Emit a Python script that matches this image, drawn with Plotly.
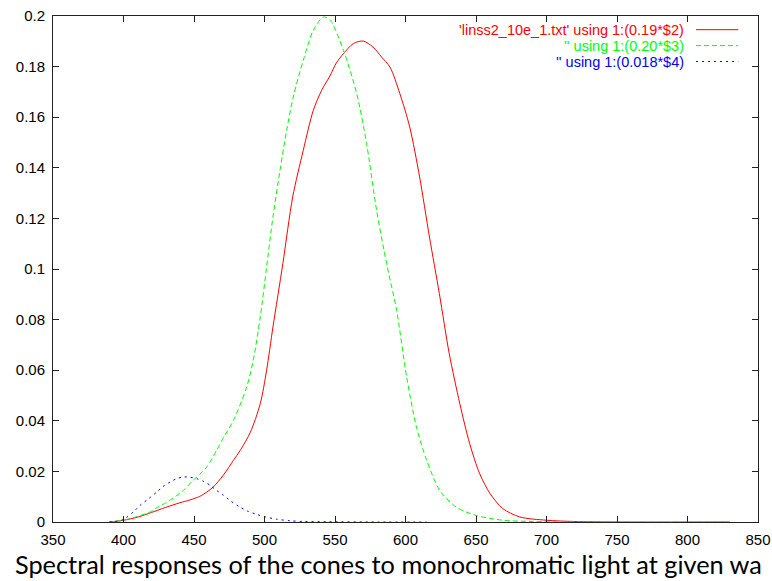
import plotly.graph_objects as go

# Wavelengths (nm) and values
red_x = [390, 400, 410, 420, 430, 440, 447, 454, 459, 463.6, 470.8, 478, 483, 490, 497, 501.5,
         506, 513, 520, 527.5, 534.6, 540.5, 546.4, 551, 556, 563, 570, 577, 583, 589, 596,
         603, 610, 617, 624, 631, 638.5, 645.5, 652.6, 660, 669, 681, 700, 720, 750, 830]
red_y = [0.0, 0.0007, 0.0019, 0.0038, 0.0058, 0.0076, 0.0087, 0.0101, 0.0118, 0.0138, 0.0185,
         0.0244, 0.0285, 0.0355, 0.0468, 0.060, 0.0771, 0.1021, 0.1285, 0.1469, 0.1627,
         0.1706, 0.1763, 0.1815, 0.1851, 0.1891, 0.1901, 0.1877, 0.1838, 0.1798, 0.1693,
         0.1561, 0.1364, 0.1126, 0.0903, 0.0666, 0.0468, 0.031, 0.0191, 0.0112, 0.0053,
         0.002, 0.0007, 0.0002, 0.0, 0.0]

green_x = [390, 400, 410, 419, 424, 431, 442.5, 449.4, 454, 459, 466, 471, 478, 487.4, 492,
           497, 501.5, 506, 511, 515.7, 520.4, 527.5, 534.6, 541.7, 546.4, 556, 565.4,
           572.4, 579.5, 586.6, 593.7, 600.8, 607.8, 615, 624.3, 636, 650, 669, 690, 720, 830]
green_y = [0.0, 0.0007, 0.0022, 0.004, 0.0058, 0.0079, 0.0125, 0.0165, 0.0188, 0.0217, 0.0283,
           0.0335, 0.0402, 0.0534, 0.0639, 0.081, 0.1008, 0.1206, 0.139, 0.1548, 0.168,
           0.1825, 0.1943, 0.1996, 0.1985, 0.1864, 0.1693, 0.1496, 0.1232, 0.1021, 0.0837,
           0.0573, 0.0375, 0.0244, 0.0125, 0.0059, 0.0026, 0.0007, 0.0002, 0.0, 0.0]

blue_x = [390, 395, 400, 407, 411.8, 418, 423.7, 428, 433, 438, 442.5, 447, 452, 457, 461.4,
          466, 470.8, 476, 482.6, 488, 494.5, 500, 508.6, 518, 527.5, 545, 580, 615]
blue_y = [0.0, 0.0003, 0.001, 0.004, 0.0066, 0.0093, 0.0119, 0.014, 0.0158, 0.0172, 0.0178,
          0.0177, 0.0171, 0.016, 0.0145, 0.0125, 0.0106, 0.0083, 0.0059, 0.0043, 0.003,
          0.0021, 0.0011, 0.0005, 0.0002, 0.0001, 0.0, 0.0]

x_ticks = [350, 400, 450, 500, 550, 600, 650, 700, 750, 800, 850]
y_ticks = [0, 0.02, 0.04, 0.06, 0.08, 0.1, 0.12, 0.14, 0.16, 0.18, 0.2]
y_tick_text = ["0", "0.02", "0.04", "0.06", "0.08", "0.1", "0.12", "0.14", "0.16", "0.18", "0.2"]

series_names = ["'linss2_10e_1.txt' using 1:(0.19*$2)",
                "'' using 1:(0.20*$3)",
                "'' using 1:(0.018*$4)"]
series_colors = ["#ff0000", "#00ff00", "#0000ff"]
series_dash = ["solid", "5px,3px", "2px,4px"]

caption = "Spectral responses of the cones to monochromatic light at given wa"

fig = go.Figure()
for xs, ys, name, col, dash in zip([red_x, green_x, blue_x], [red_y, green_y, blue_y],
                                   series_names, series_colors, series_dash):
    fig.add_trace(go.Scatter(x=xs, y=ys, mode="lines", name=name,
                             line=dict(color=col, width=1, dash=dash, shape="spline",
                                       smoothing=0.8),
                             showlegend=False, hoverinfo="skip"))

axis_common = dict(showgrid=False, zeroline=False, showline=True, linecolor="#222222",
                   linewidth=1, mirror="allticks", ticks="inside", ticklen=6,
                   tickcolor="#222222", tickwidth=1, automargin=False,
                   tickfont=dict(family="Liberation Sans, Arial, sans-serif", size=15, color="#000000"))

fig.update_xaxes(range=[350, 850], tickvals=x_ticks, ticklabelstandoff=4, **axis_common)
fig.update_yaxes(range=[0, 0.2], tickvals=y_ticks, ticktext=y_tick_text,
                 ticklabelstandoff=4, **axis_common)

# Legend drawn gnuplot-style: right-aligned text, sample line on the right
leg_y = [0.973, 0.9415, 0.910]
for name, col, dash, yy in zip(series_names, series_colors, series_dash, leg_y):
    fig.add_annotation(x=0.8965, y=yy, xref="paper", yref="paper", text=name,
                       showarrow=False, xanchor="right", yanchor="middle", borderpad=0,
                       font=dict(family="Liberation Sans, Arial, sans-serif", size=14.5, color=col))
    fig.add_shape(type="line", xref="paper", yref="paper", x0=0.912, x1=0.972, y0=yy, y1=yy,
                  line=dict(color=col, width=1, dash=dash))

fig.add_annotation(x=0, y=0, xref="paper", yref="paper", text=caption, showarrow=False,
                   xanchor="left", yanchor="middle", xshift=-39, yshift=-42, borderpad=0,
                   font=dict(family="Lato, sans-serif", size=25.3, color="#000000"))

fig.update_layout(width=772, height=581, margin=dict(l=53, r=14, t=16, b=59, autoexpand=False),
                  paper_bgcolor="#ffffff", plot_bgcolor="#ffffff", showlegend=False)

fig.write_html("out.html")
